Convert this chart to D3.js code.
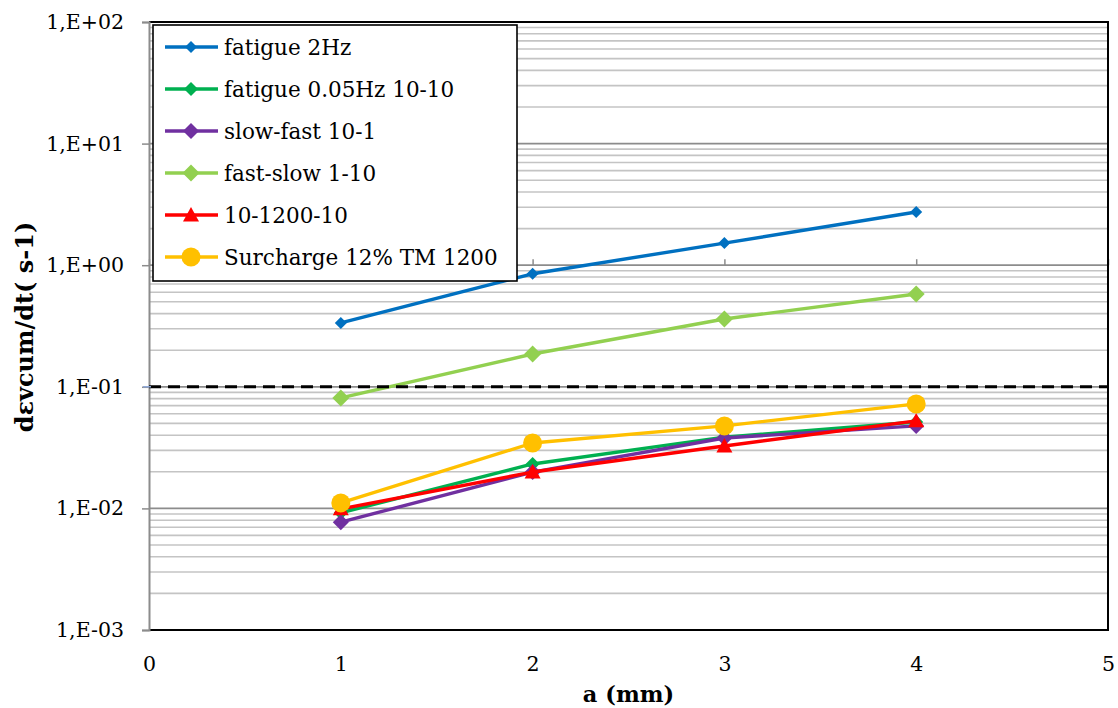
<!DOCTYPE html>
<html><head><meta charset="utf-8">
<script src="https://cdn.jsdelivr.net/npm/d3@7"></script>
<style>body{margin:0;background:#fff}svg{display:block}</style>
</head><body>
<svg id="c" width="1118" height="708"></svg>
<script>
const xValues = [1, 2, 3, 4];
const seriesNames = ["fatigue 2Hz","fatigue 0.05Hz 10-10","slow-fast 10-1","fast-slow 1-10","10-1200-10","Surcharge 12% TM 1200"];
const fatigue2Hz   = [0.335, 0.85, 1.52, 2.74];
const fatigue005Hz = [0.0092, 0.0232, 0.0386, 0.0514];
const slowFast     = [0.0077, 0.0199, 0.0379, 0.0477];
const fastSlow     = [0.081, 0.186, 0.361, 0.58];
const t10_1200_10  = [0.0099, 0.0199, 0.0326, 0.0524];
const surcharge    = [0.0111, 0.0345, 0.0477, 0.0723];
const thresholdValue = 0.1;
const yTickLabels = ["1,E-03","1,E-02","1,E-01","1,E+00","1,E+01","1,E+02"];
const xTickLabels = ["0","1","2","3","4","5"];

const styles = [
  {color:"#0070C0", shape:"diamond", size:12},
  {color:"#00B050", shape:"diamond", size:14},
  {color:"#7030A0", shape:"diamond", size:16},
  {color:"#92D050", shape:"diamond", size:17},
  {color:"#FF0000", shape:"triangle", size:16},
  {color:"#FFC000", shape:"circle", size:19}
];
const seriesData = [fatigue2Hz, fatigue005Hz, slowFast, fastSlow, t10_1200_10, surcharge];

const svg = d3.select("#c");
const L=149, R=1108, T=22, B=630;
const x = d3.scaleLinear().domain([0,5]).range([L,R]);
const y = d3.scaleLog().domain([1e-3,1e2]).range([B,T]);

const serif = "'DejaVu Serif', serif";

// minor gridlines
const minors = [];
for (let e=-3;e<2;e++) for (let m=2;m<=9;m++) minors.push(m*Math.pow(10,e));
svg.append("g").selectAll("line").data(minors).join("line")
  .attr("x1",L).attr("x2",R).attr("y1",d=>y(d)).attr("y2",d=>y(d))
  .attr("stroke","#c4c4c4").attr("stroke-width",1.6);
const majors = [1e-2,1e-1,1e0,1e1];
svg.append("g").selectAll("line").data(majors).join("line")
  .attr("x1",L).attr("x2",R).attr("y1",d=>y(d)).attr("y2",d=>y(d))
  .attr("stroke","#8c8c8c").attr("stroke-width",1.8);

// x-axis line crossing at 1 with ticks
const xAxisG = svg.append("g").attr("transform",`translate(0,${y(1)})`)
  .call(d3.axisTop(x).tickValues([0,1,2,3,4,5]).tickSize(6).tickFormat(""));
xAxisG.select(".domain").remove();
xAxisG.selectAll("line").attr("stroke","#8c8c8c").attr("stroke-width",1.5);

// plot border (top, right, bottom) black
svg.append("path").attr("d",`M${L},${T}H${R}V${B}H${L}`).attr("fill","none")
  .attr("stroke","#000").attr("stroke-width",2);

// y axis
const yAxisG = svg.append("g").attr("transform",`translate(${L},0)`)
  .call(d3.axisLeft(y).tickValues([1e-3,1e-2,1e-1,1e0,1e1,1e2]).tickSize(7)
    .tickFormat((d,i)=>yTickLabels[i]));
yAxisG.select(".domain").attr("stroke","#8c8c8c").attr("stroke-width",2);
yAxisG.selectAll(".tick line").attr("stroke","#8c8c8c").attr("stroke-width",1.5);
yAxisG.selectAll(".tick text").attr("x",-25).attr("font-family",serif).attr("font-size",20.5).attr("fill","#000");

// x tick labels at bottom
const xLab = svg.append("g").attr("transform",`translate(0,${B})`)
  .call(d3.axisBottom(x).tickValues([0,1,2,3,4,5]).tickSize(0).tickFormat((d,i)=>xTickLabels[i]));
xLab.select(".domain").remove();
xLab.selectAll("text").attr("dy",0).attr("y",41).attr("font-family",serif).attr("font-size",20.5).attr("fill","#000");

// titles
svg.append("text").attr("x",(L+R)/2).attr("y",702).attr("text-anchor","middle")
  .attr("font-family",serif).attr("font-weight","bold").attr("font-size",22.5).text("a (mm)");
svg.append("text").attr("transform","translate(33,327) rotate(-90)").attr("text-anchor","middle")
  .attr("font-family",serif).attr("font-weight","bold").attr("font-size",24).text("dεvcum/dt( s-1)");

function symbolPath(shape,size){
  const s=size/2;
  if(shape==="diamond") return `M0,${-s}L${s},0L0,${s}L${-s},0Z`;
  if(shape==="triangle") return `M0,${-s}L${s},${s*0.8}L${-s},${s*0.8}Z`;
  return d3.arc()({innerRadius:0,outerRadius:s,startAngle:0,endAngle:2*Math.PI});
}

const line = d3.line().x((d,i)=>x(xValues[i])).y(d=>y(d));
seriesData.forEach((vals,k)=>{
  const st=styles[k];
  const g=svg.append("g");
  g.append("path").attr("d",line(vals)).attr("fill","none").attr("stroke",st.color)
    .attr("stroke-width",3.4).attr("stroke-linejoin","round");
  g.selectAll("path.m").data(vals).join("path").attr("class","m")
    .attr("transform",(d,i)=>`translate(${x(xValues[i])},${y(d)})`)
    .attr("d",symbolPath(st.shape,st.size)).attr("fill",st.color);
});

// threshold dashed line
svg.append("line").attr("x1",L).attr("x2",R).attr("y1",y(thresholdValue)).attr("y2",y(thresholdValue))
  .attr("stroke","#000").attr("stroke-width",3).attr("stroke-dasharray","12,7");
svg.append("line").attr("x1",L-6).attr("x2",L+2).attr("y1",y(thresholdValue)).attr("y2",y(thresholdValue))
  .attr("stroke","#8fa8d8").attr("stroke-width",1.5);

// legend
const lg = svg.append("g");
lg.append("rect").attr("x",153).attr("y",25).attr("width",364).attr("height",256)
  .attr("fill","#fff").attr("stroke","#000").attr("stroke-width",1.6);
seriesNames.forEach((name,k)=>{
  const st=styles[k];
  const cy=47+k*42;
  lg.append("line").attr("x1",165).attr("x2",218).attr("y1",cy).attr("y2",cy)
    .attr("stroke",st.color).attr("stroke-width",3.4);
  lg.append("path").attr("transform",`translate(191,${cy})`).attr("d",symbolPath(st.shape,st.size)).attr("fill",st.color);
  lg.append("text").attr("x",224).attr("y",cy+8).attr("font-family",serif).attr("font-size",21.5).text(name);
});
</script>
</body></html>
